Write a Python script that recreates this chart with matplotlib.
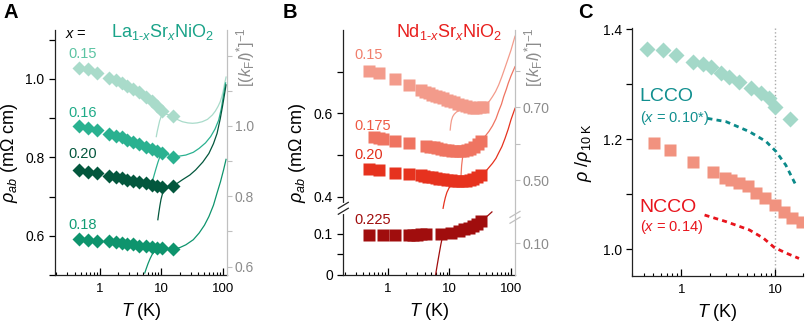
import numpy as np
import matplotlib
matplotlib.use('Agg')
import matplotlib.pyplot as plt
from matplotlib.ticker import LogLocator, NullFormatter, MultipleLocator, FixedLocator

plt.rcParams['font.family'] = ['Liberation Sans', 'DejaVu Sans']
plt.rcParams['mathtext.fontset'] = 'custom'
plt.rcParams['mathtext.rm'] = 'Liberation Sans'
plt.rcParams['mathtext.it'] = 'Liberation Sans:italic'
plt.rcParams['mathtext.bf'] = 'Liberation Sans:bold'

# ---------------- panel A : La(1-x)Sr(x)NiO2 ----------------
T_A = [0.46, 0.64, 0.91, 1.43, 1.84, 2.27, 2.82, 3.47, 4.4, 5.66, 7.0, 8.6, 10.4, 15.3]
la_015 = [1.029, 1.026, 1.015, 1.003, 0.997, 0.991, 0.983, 0.975, 0.966, 0.955, 0.944, 0.932, 0.918, 0.905]
la_016 = [0.880, 0.876, 0.870, 0.859, 0.854, 0.851, 0.844, 0.839, 0.834, 0.827, 0.821, 0.817, 0.810, 0.802]
la_020 = [0.768, 0.764, 0.760, 0.753, 0.751, 0.747, 0.743, 0.740, 0.737, 0.734, 0.730, 0.727, 0.725, 0.727]
la_018 = [0.592, 0.590, 0.588, 0.586, 0.583, 0.582, 0.579, 0.578, 0.575, 0.573, 0.572, 0.570, 0.568, 0.566]

laT_015 = [8.3, 8.6, 9.0, 9.4, 9.9, 10.5, 11.5, 13, 15.3, 18, 22, 27, 32, 38, 46, 56, 67, 75, 83, 90, 96, 101, 106, 112]
laR_015 = [0.853, 0.866, 0.880, 0.893, 0.903, 0.909, 0.911, 0.909, 0.903, 0.897, 0.891, 0.888, 0.887, 0.888,
           0.891, 0.897, 0.908, 0.918, 0.930, 0.942, 0.956, 0.970, 0.988, 1.005]
laT_016 = [7.3, 7.7, 8.2, 8.8, 9.4, 10.0, 10.8, 12.5, 15.3, 19, 25, 33, 41, 52, 63, 74, 85, 94, 102, 110]
laR_016 = [0.743, 0.756, 0.771, 0.787, 0.800, 0.808, 0.811, 0.808, 0.802, 0.803, 0.806, 0.813, 0.823, 0.837,
           0.853, 0.872, 0.895, 0.925, 0.960, 0.990]
laT_020 = [8.8, 9.1, 9.5, 9.9, 10.4, 11.0, 12, 15.3, 22, 29, 36, 47, 59, 70, 80, 90, 98, 106, 112]
laR_020 = [0.641, 0.658, 0.677, 0.693, 0.706, 0.715, 0.721, 0.726, 0.743, 0.755, 0.768, 0.788, 0.810, 0.835,
           0.861, 0.898, 0.930, 0.962, 0.985]
laT_018 = [5.4, 5.7, 6.1, 6.6, 7.1, 7.7, 8.6, 11, 15.3, 20, 25, 33, 41, 50, 59, 70, 80, 91, 102, 112]
laR_018 = [0.505, 0.516, 0.529, 0.542, 0.552, 0.559, 0.563, 0.566, 0.565, 0.570, 0.577, 0.590, 0.607, 0.627,
           0.649, 0.678, 0.709, 0.738, 0.768, 0.795]

# ---------------- panel B : Nd(1-x)Sr(x)NiO2 ----------------
T_B015 = [0.5, 0.72, 1.33, 2.2, 3.4, 4.0, 4.6, 5.3, 6.0, 6.9, 7.9, 9.0, 10.4, 12, 13.8, 16, 18.3, 21, 24, 27.5, 31.5, 35]
nd_015 = [0.702, 0.696, 0.682, 0.668, 0.656, 0.652, 0.648, 0.645, 0.642, 0.639, 0.636, 0.633, 0.630, 0.627, 0.623,
          0.620, 0.617, 0.614, 0.613, 0.613, 0.614, 0.616]
T_B0175 = [0.6, 0.72, 0.85, 1.33, 2.2, 4.2, 4.9, 5.6, 6.4, 7.3, 8.4, 9.6, 11, 12.7, 14.6, 16.8, 19.3, 22, 25.3, 29, 33]
nd_0175 = [0.543, 0.541, 0.539, 0.533, 0.529, 0.522, 0.520, 0.518, 0.516, 0.514, 0.512, 0.511, 0.510, 0.509, 0.509,
           0.510, 0.512, 0.515, 0.520, 0.526, 0.534]
T_B020 = [0.5, 0.72, 1.33, 2.2, 3.4, 3.9, 4.5, 5.2, 6.0, 6.9, 7.9, 9.1, 10.5, 12.1, 13.9, 16, 18.4, 21.2, 24.4, 28, 32.2]
nd_020 = [0.467, 0.464, 0.457, 0.454, 0.451, 0.450, 0.448, 0.446, 0.445, 0.443, 0.442, 0.440, 0.439, 0.438, 0.437,
          0.437, 0.438, 0.440, 0.443, 0.447, 0.452]
T_B0225 = [0.5, 0.83, 1.33, 2.2, 2.6, 3.0, 3.5, 4.2, 7.3, 10.5, 14.5, 17.5, 20.5, 24, 28, 32]
nd_0225 = [0.097, 0.097, 0.097, 0.097, 0.097, 0.097, 0.098, 0.098, 0.100, 0.102, 0.106, 0.110, 0.114, 0.119, 0.124, 0.130]

ndT_015 = [10.3, 10.5, 10.8, 11.3, 12, 13, 15, 18, 22, 27, 32, 35, 40, 45, 50, 56, 63, 71, 80, 90, 100, 116]
ndR_015 = [0.560, 0.572, 0.583, 0.592, 0.598, 0.603, 0.608, 0.611, 0.613, 0.613, 0.614, 0.616, 0.622, 0.630,
           0.640, 0.652, 0.668, 0.688, 0.710, 0.732, 0.752, 0.785]
ndT_0175 = [15.3, 15.5, 15.8, 16.3, 17, 18.5, 21, 25, 29, 33, 38, 44, 50, 57, 63, 70, 76, 84, 90, 100, 116]
ndR_0175 = [0.432, 0.455, 0.475, 0.492, 0.502, 0.508, 0.512, 0.518, 0.526, 0.534, 0.545, 0.557, 0.570, 0.587,
            0.605, 0.622, 0.640, 0.658, 0.672, 0.690, 0.712]
ndT_020 = [7.9, 8.2, 8.6, 9.1, 9.8, 10.6, 11.5, 13, 16, 20, 27, 33, 40, 50, 57, 63, 71, 80, 90, 100, 116]
ndR_020 = [0.372, 0.385, 0.398, 0.410, 0.420, 0.428, 0.433, 0.436, 0.437, 0.440, 0.446, 0.453, 0.463, 0.480,
           0.492, 0.505, 0.520, 0.540, 0.562, 0.585, 0.612]
ndT_0225 = [5.9, 6.2, 6.5, 6.9, 7.3, 7.7, 8.2, 9, 10.5, 14.5, 20.5, 28, 35, 42, 49]
ndR_0225 = [-0.005, 0.015, 0.033, 0.055, 0.075, 0.091, 0.098, 0.100, 0.102, 0.106, 0.114, 0.124, 0.134, 0.143, 0.152]

# ---------------- panel C : cuprates ----------------
T_lcco = [0.426, 0.638, 0.885, 1.33, 1.70, 2.08, 2.66, 3.25, 4.15, 5.52, 7.05, 8.6, 10.04, 14.4]
r_lcco = [1.365, 1.362, 1.353, 1.341, 1.337, 1.332, 1.320, 1.314, 1.305, 1.293, 1.284, 1.275, 1.259, 1.237]
T_ncco = [0.512, 0.752, 1.33, 2.16, 2.9, 3.4, 4.15, 5.09, 6.24, 7.8, 10.0, 12.5, 15.3, 19.5]
r_ncco = [1.193, 1.181, 1.159, 1.141, 1.130, 1.125, 1.121, 1.115, 1.102, 1.093, 1.081, 1.068, 1.056, 1.050]
fitT_lcco = [1.9, 3.0, 5.3, 8.0, 10.2, 13, 16.6]
fitR_lcco = [1.238, 1.232, 1.214, 1.196, 1.178, 1.153, 1.117]
fitT_ncco = [1.77, 3.0, 5.3, 7.5, 9.8, 13, 18]
fitR_ncco = [1.062, 1.050, 1.035, 1.020, 1.003, 0.993, 0.983]

W, H = 809.0, 327.0


def px_axes(l, t, r, b):
    return [l / W, 1 - b / H, (r - l) / W, (b - t) / H]


def log_x(ax, lo, hi, ticks):
    ax.set_xscale('log')
    ax.set_xlim(lo, hi)
    ax.xaxis.set_major_locator(FixedLocator(ticks))
    ax.set_xticklabels([str(t) for t in ticks])
    ax.xaxis.set_minor_locator(LogLocator(subs=np.arange(2, 10), numticks=20))
    ax.xaxis.set_minor_formatter(NullFormatter())
    ax.tick_params(axis='x', which='major', direction='in', length=5, width=0.9, labelsize=9.5, pad=6)
    ax.tick_params(axis='x', which='minor', direction='in', length=2.5, width=0.8)
    ax.tick_params(axis='y', which='major', direction='out', length=4, width=0.9, labelsize=10)
    ax.tick_params(axis='y', which='minor', direction='out', length=4, width=0.9)
    ax.spines['top'].set_visible(False)
    ax.spines['right'].set_visible(False)
    for s in ('left', 'bottom'):
        ax.spines[s].set_linewidth(0.9)
        ax.spines[s].set_color('#222222')
    ax.set_xlabel(r'$T$ (K)', fontsize=13, labelpad=4)


def gray_twin(ax):
    tw = ax.twinx()
    for s in ('left', 'top', 'bottom'):
        tw.spines[s].set_visible(False)
    tw.spines['right'].set_color('#c0c0c0')
    tw.spines['right'].set_linewidth(0.9)
    tw.tick_params(axis='y', which='both', direction='out', length=3.5, width=0.8,
                   colors='#c0c0c0', labelcolor='#8c8c8c', labelsize=10, pad=2)
    tw.text(1.11, 1.01, r'$[(k_{\mathrm{F}}l)^{*}]^{-1}$', transform=ax.transAxes, rotation=90,
            ha='center', va='top', color='#8c8c8c', fontsize=12)
    return tw


def break_scale(v_knots, d_knots):
    return (lambda v: np.interp(v, v_knots, d_knots), lambda d: np.interp(d, d_knots, v_knots))


def break_mark(ax, x, y, color):
    dx, dy = 5 / 172.0, 3 / 245.0
    ax.plot([x, x], [y - 0.014, y + 0.014], color='white', lw=3, transform=ax.transAxes, clip_on=False, zorder=5)
    for off in (-0.012, 0.012):
        ax.plot([x - dx, x + dx], [y + off - dy, y + off + dy], color=color, lw=0.9,
                transform=ax.transAxes, clip_on=False, zorder=6)


fig = plt.figure(figsize=(8.09, 3.27), dpi=100)

# ===== A =====
axA = fig.add_axes(px_axes(55, 30, 227, 275))
log_x(axA, 0.19, 116, [1, 10, 100])
axA.set_ylim(0.5, 1.125)
axA.yaxis.set_minor_locator(MultipleLocator(0.1))
axA.set_yticks([0.6, 0.8, 1.0])
axA.set_yticklabels(['0.6', '0.8', '1.0'])
axA.set_ylabel(r'$\rho_{ab}$ (m$\Omega$ cm)', fontsize=13, labelpad=4)

colA = ['#a9dbca', '#2ab190', '#03573d', '#0e946d']
txtA = ['#5cc4a3', '#1fab88', '#03573d', '#129c74']
curvesA = [(laT_015, laR_015), (laT_016, laR_016), (laT_020, laR_020), (laT_018, laR_018)]
pointsA = [la_015, la_016, la_020, la_018]
for (ct, cr), pts, c in zip(curvesA, pointsA, colA):
    axA.plot(ct, cr, color=c, lw=0.9, zorder=2)
    axA.plot(T_A, pts, 'D', color=c, ms=7.2, mec='none', zorder=3)

axA.text(0.28, 1.116, r'$x$ =', fontsize=10.5, va='center', ha='left')
axA.text(1.55, 1.119, r'La$_{1\text{-}x}$Sr$_x$NiO$_2$', fontsize=13, va='center', ha='left', color='#1aa389')
for lbl, yy, c in zip(['0.15', '0.16', '0.20', '0.18'], [1.065, 0.913, 0.809, 0.628], txtA):
    axA.text(0.31, yy, lbl, fontsize=10.5, color=c, va='center', ha='left')

twA = gray_twin(axA)
twA.set_ylim(0.576, 1.273)
twA.set_yticks([0.6, 0.8, 1.0])
twA.set_yticklabels(['0.6', '0.8', '1.0'])
twA.yaxis.set_minor_locator(MultipleLocator(0.1))

# ===== B =====
axB = fig.add_axes(px_axes(343.3, 30, 515, 275))
log_x(axB, 0.19, 116, [1, 10, 100])
fwd, inv = break_scale([-1.0, 0.16, 0.372, 2.0], [-415.0, 66.4, 66.7, 78.3 + 1.6 * 416.7])
axB.set_yscale('function', functions=(fwd, inv))
axB.set_ylim(0, 0.8)
axB.yaxis.set_major_locator(FixedLocator([0, 0.1, 0.4, 0.6]))
axB.yaxis.set_minor_locator(FixedLocator([0.05, 0.5, 0.7]))
axB.set_yticklabels(['0', '0.1', '0.4', '0.6'])
axB.set_ylabel(r'$\rho_{ab}$ (m$\Omega$ cm)', fontsize=13, labelpad=4)

colB = ['#f39b8b', '#ef7461', '#e6321e', '#a00d0d']
txtB = ['#f07f6c', '#ee5a44', '#e2301c', '#a00d0d']
curvesB = [(ndT_015, ndR_015), (ndT_0175, ndR_0175), (ndT_020, ndR_020), (ndT_0225, ndR_0225)]
pointsB = [(T_B015, nd_015), (T_B0175, nd_0175), (T_B020, nd_020), (T_B0225, nd_0225)]
for (ct, cr), (pt, pv), c in zip(curvesB, pointsB, colB):
    axB.plot(ct, cr, color=c, lw=0.9, zorder=2)
    axB.plot(pt, pv, 's', color=c, ms=8, mec='none', zorder=3)

axB.text(1.37, 0.796, r'Nd$_{1\text{-}x}$Sr$_x$NiO$_2$', fontsize=13, va='center', ha='left', color='#e8201e')
for lbl, yy, c in zip(['0.15', '0.175', '0.20', '0.225'], [0.740, 0.570, 0.500, 0.1325], txtB):
    axB.text(0.29, yy, lbl, fontsize=10.5, color=c, va='center', ha='left')

twB = gray_twin(axB)
fwd2, inv2 = break_scale([-1.0, 0.18, 0.398, 2.0], [31.5 - 1.1 * 315, 56.7, 57.7, 95 + 1.5 * 365])
twB.set_yscale('function', functions=(fwd2, inv2))
twB.set_ylim(0, 0.911)
twB.yaxis.set_major_locator(FixedLocator([0.1, 0.5, 0.7]))
twB.yaxis.set_minor_locator(FixedLocator([0.6, 0.8]))
twB.set_yticklabels(['0.10', '0.50', '0.70'])

break_mark(axB, 0.0, 66.7 / 245, '#222222')
break_mark(axB, 1.0, 57.7 / 245, '#c0c0c0')

# ===== C =====
axC = fig.add_axes(px_axes(632.3, 28.3, 803.3, 276))
log_x(axC, 0.3, 20, [1, 10])
axC.set_ylim(0.951, 1.402)
axC.set_yticks([1.0, 1.2, 1.4])
axC.set_yticklabels(['1.0', '1.2', '1.4'])
axC.yaxis.set_minor_locator(MultipleLocator(0.1))
axC.set_ylabel(r'$\rho\ /\rho_{10\ \mathrm{K}}$', fontsize=13, labelpad=6)
axC.axvline(10, color='#aaaaaa', ls=':', lw=1, zorder=1)

axC.plot(T_lcco, r_lcco, 'D', color='#a3d8c8', ms=7.8, mec='none', zorder=3)
axC.plot(T_ncco, r_ncco, 's', color='#f1927f', ms=8.5, mec='none', zorder=3)
axC.plot(fitT_lcco, fitR_lcco, color='#0b8a8a', lw=2, dashes=(1.8, 1.5), zorder=2)
axC.plot(fitT_ncco, fitR_ncco, color='#e8141c', lw=2, dashes=(1.8, 1.5), zorder=2)

axC.text(0.36, 1.277, 'LCCO', color='#118f8f', fontsize=14, va='center', ha='left')
axC.text(0.36, 1.238, r'($x$ = 0.10*)', color='#118f8f', fontsize=10.5, va='center', ha='left')
axC.text(0.36, 1.075, 'NCCO', color='#e8141c', fontsize=14, va='center', ha='left')
axC.text(0.36, 1.041, r'($x$ = 0.14)', color='#e8141c', fontsize=10.5, va='center', ha='left')

# panel letters
for lbl, xp in (('A', 3), ('B', 283), ('C', 578)):
    fig.text(xp / W, 1 - 3 / H, lbl, fontsize=14.5, fontweight='bold', va='top', ha='left')

fig.savefig('out.png', dpi=100)
